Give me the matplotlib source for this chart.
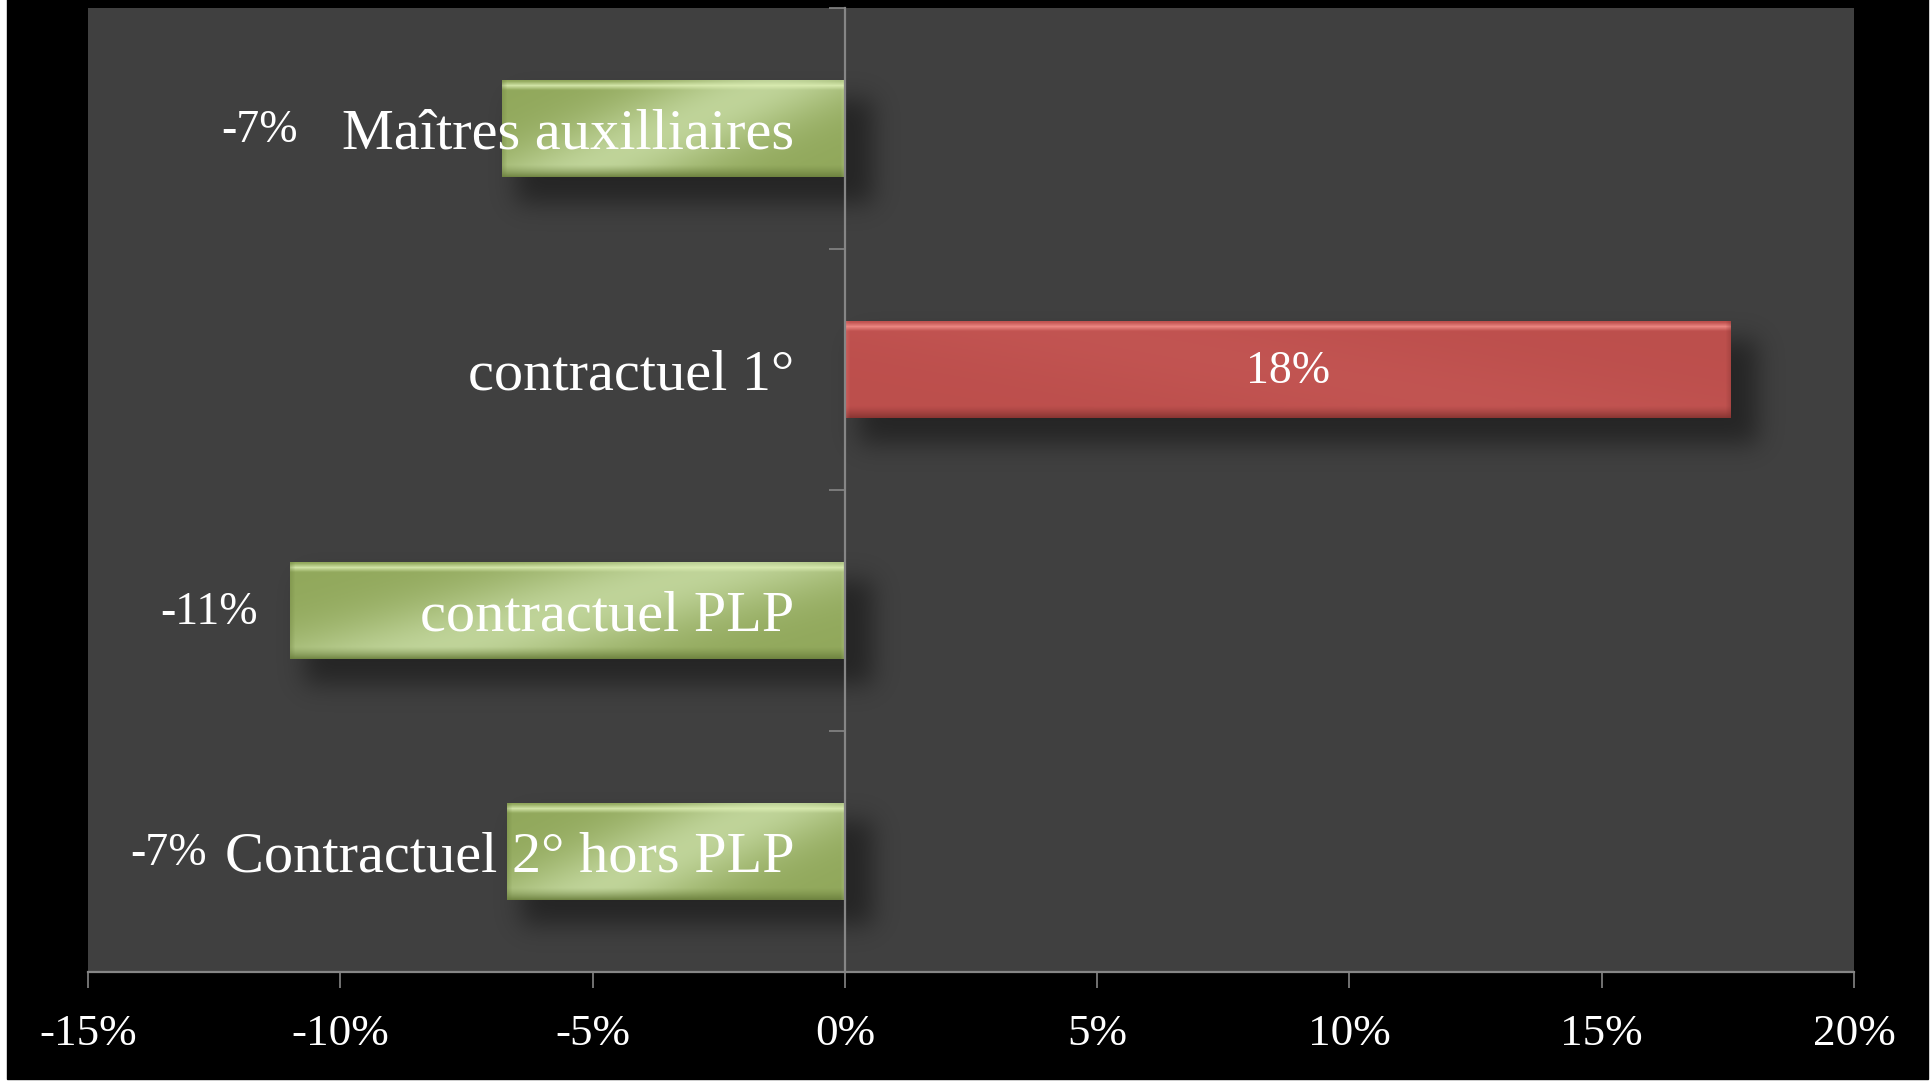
"""
Bar chart: evolution of contract staff categories (dark Excel-style theme).
Output: out.png (1930x1081)
"""

import math
import numpy as np
import matplotlib
matplotlib.use("Agg")          # headless backend
import matplotlib.pyplot as plt
from matplotlib.patches import Rectangle

# ── Data ──────────────────────────────────────────────────────────────
CATEGORIES = ["Maîtres auxilliaires", "contractuel 1°",
              "contractuel PLP", "Contractuel 2° hors PLP"]
VALUES     = [-6.8, 17.55, -11.0, -6.7]          # % change
X_TICKS    = [-15, -10, -5, 0, 5, 10, 15, 20]

# where the value labels sit (x in %); None = centred in the bar
LABEL_X    = [-11.6, None, -12.6, -13.4]

# ── Style ─────────────────────────────────────────────────────────────
PLOT_BG   = "#404040"
AXIS_GRAY = "#868686"
FONT      = "Liberation Serif"

GREEN = {"dark": (0.57, 0.66, 0.36), "light": (0.75, 0.83, 0.60),
         "hi": (0.86, 0.93, 0.70), "lo": (0.42, 0.50, 0.24)}
RED   = {"dark": (0.74, 0.31, 0.30), "light": (0.76, 0.33, 0.32),
         "hi": (0.95, 0.56, 0.54), "lo": (0.52, 0.20, 0.19)}

BAR_H    = 0.40
XLIM     = (-15, 20)
YLIM     = (3.5, -0.5)

plt.rcParams["font.family"] = [FONT, "DejaVu Serif"]


# ── Helpers ───────────────────────────────────────────────────────────
def bar_image(w_px, h_px, pal):
    """Gradient fill with a simple bevel, as an RGB array."""
    u = np.linspace(0, 1, w_px)[None, :]
    v = np.linspace(0, 1, h_px)[:, None]
    dark, light = np.array(pal["dark"]), np.array(pal["light"])
    t = np.exp(-((u - 0.2 - 0.6 * v) / 0.32) ** 2)
    img = dark + (light - dark) * t[..., None]

    yy = np.arange(h_px)[:, None] * np.ones((1, w_px))
    xx = np.ones((h_px, 1)) * np.arange(w_px)[None, :]
    hi, lo = np.array(pal["hi"]), np.array(pal["lo"])

    top = np.clip(1 - np.abs(yy - 5) / 4.5, 0, 1) * 0.85
    img = img + (hi - img) * top[..., None]
    bot = np.clip((yy - (h_px - 13)) / 12, 0, 1) ** 1.3 * 0.9
    img = img + (lo - img) * bot[..., None]
    left = np.clip(1 - xx / 5, 0, 1) * 0.25
    img = img + (hi - img) * left[..., None]
    right = np.clip((xx - (w_px - 6)) / 5, 0, 1) * 0.35
    img = img + (lo - img) * right[..., None]
    return np.clip(img, 0, 1)


def erf_profile(coords, a, b, sigma):
    erf = np.vectorize(math.erf)
    s = sigma * math.sqrt(2)
    return 0.5 * (erf((coords - a) / s) - erf((coords - b) / s))


# ── Figure ────────────────────────────────────────────────────────────
fig = plt.figure(figsize=(19.30, 10.81), dpi=100, facecolor="white")
fig.patches.append(Rectangle((7 / 1930, 2 / 1081), 1921 / 1930, 1,
                             transform=fig.transFigure, color="black",
                             zorder=-10))
ax = fig.add_axes([88 / 1930, 109 / 1081, 1766 / 1930, 964 / 1081])
ax.set_facecolor(PLOT_BG)
ax.set_xlim(*XLIM)
ax.set_ylim(*YLIM)

ypos = np.arange(len(CATEGORIES))
pals = [RED if v > 0 else GREEN for v in VALUES]

# soft drop shadow behind the bars
W_PX, H_PX = 1766, 964
px_x = (XLIM[1] - XLIM[0]) / W_PX
px_y = (YLIM[0] - YLIM[1]) / H_PX
xs = np.linspace(XLIM[0], XLIM[1], W_PX // 2)
ys = np.linspace(YLIM[1], YLIM[0], H_PX // 2)
shadow = np.zeros((len(ys), len(xs)))
for y, v in zip(ypos, VALUES):
    x0, x1 = min(0, v), max(0, v)
    px = erf_profile(xs, x0 + 14 * px_x, x1 + 28 * px_x, 12 * px_x)
    py = erf_profile(ys, y - BAR_H / 2 + 18 * px_y, y + BAR_H / 2 + 26 * px_y,
                     12 * px_y)
    shadow = np.maximum(shadow, py[:, None] * px[None, :])
rgba = np.zeros(shadow.shape + (4,))
rgba[..., 3] = shadow * 0.42
ax.imshow(rgba, extent=(XLIM[0], XLIM[1], YLIM[0], YLIM[1]), origin="upper",
          aspect="auto", interpolation="bilinear", zorder=0.2)

# bars + gradient/bevel overlay
bars = ax.barh(ypos, VALUES, height=BAR_H, color=[p["dark"] for p in pals],
               edgecolor="none", zorder=0.8)
for bar, v, pal in zip(bars, VALUES, pals):
    w_px = max(int(abs(v) / px_x), 10)
    h_px = int(round(BAR_H / px_y))
    x0, y0 = bar.get_x(), bar.get_y()
    ax.imshow(bar_image(w_px, h_px, pal),
              extent=(x0, x0 + bar.get_width(), y0 + bar.get_height(), y0),
              origin="upper", aspect="auto", interpolation="bilinear",
              zorder=0.9)

# value labels
for y, v, lx in zip(ypos, VALUES, LABEL_X):
    x = v / 2 if lx is None else lx
    ax.text(x, y + 0.01, f"{round(v)}%", ha="center", va="center",
            color="white", fontsize=33, zorder=5)

# axes: y axis sits on the 0% line
for s in ("top", "right"):
    ax.spines[s].set_visible(False)
ax.spines["left"].set_position(("data", 0))
for s in ("left", "bottom"):
    ax.spines[s].set_color(AXIS_GRAY)
    ax.spines[s].set_linewidth(1.6)

ax.set_xticks(X_TICKS)
ax.set_xticklabels([f"{t}%" for t in X_TICKS])
ax.tick_params(axis="x", length=11.5, width=1.2, color=AXIS_GRAY,
               labelcolor="white", labelsize=32.5, pad=19)

ax.set_yticks(np.arange(-0.5, len(CATEGORIES), 1.0))
ax.set_yticks(ypos, minor=True)
ax.set_yticklabels(CATEGORIES, minor=True)
ax.tick_params(axis="y", which="major", length=11.5, width=1.2,
               color=AXIS_GRAY, labelleft=False)
ax.tick_params(axis="y", which="minor", length=0, pad=36.5,
               labelcolor="white", labelsize=42)

fig.savefig("out.png", dpi=100, facecolor=fig.get_facecolor())
print("[chart] Saved out.png")
